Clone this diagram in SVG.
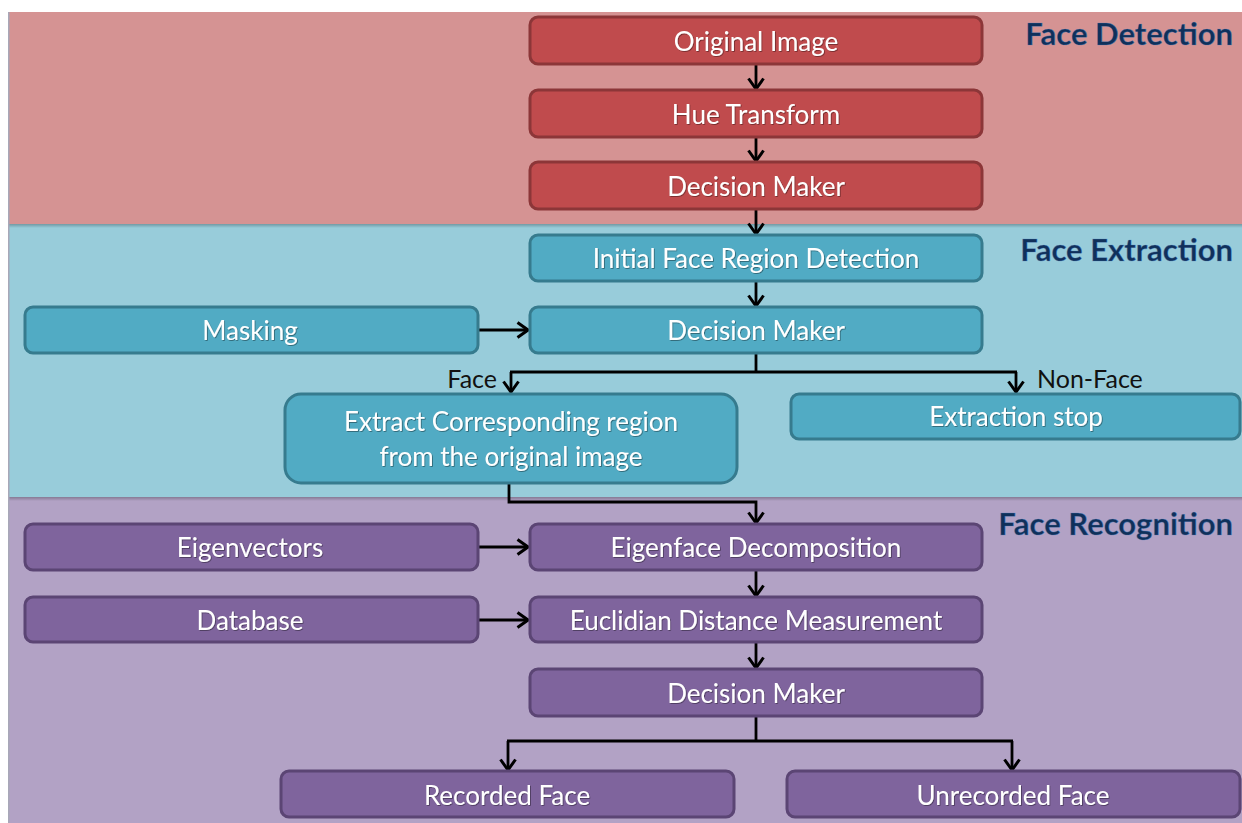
<svg xmlns="http://www.w3.org/2000/svg" width="1242" height="823" viewBox="0 0 1242 823">
  <defs>
    <marker id="arrow" viewBox="0 0 14 18" refX="12" refY="9" markerWidth="14" markerHeight="18" markerUnits="userSpaceOnUse" orient="auto">
      <path d="M1.5,1.5 L12,9 L1.5,16.5" fill="none" stroke="#000" stroke-width="3" stroke-linejoin="miter"/>
    </marker>
    <linearGradient id="bandShade" x1="0" y1="0" x2="0" y2="1">
      <stop offset="0" stop-color="#000" stop-opacity="0.25"/>
      <stop offset="1" stop-color="#000" stop-opacity="0"/>
    </linearGradient>
    <filter id="txtShadow" x="-5%" y="-20%" width="110%" height="140%">
      <feDropShadow dx="0.8" dy="0.8" stdDeviation="0.6" flood-color="#000" flood-opacity="0.45"/>
    </filter>
  </defs>
  <style>
    .lbl { font-family: Lato, "Open Sans", sans-serif; font-size: 26px; fill: #ffffff; text-anchor: middle; dominant-baseline: central; filter: url(#txtShadow); }
    .side { font-family: Lato, "Open Sans", sans-serif; font-size: 25px; fill: #111; }
    .title { font-family: Lato, "Open Sans", sans-serif; font-size: 31px; font-weight: bold; fill: #10305a; stroke: #4f81bd; stroke-width: 0.6; stroke-opacity: 0.6; }
    .red { fill: #c04b4d; stroke: #8c3638; stroke-width: 3; }
    .cyan { fill: #51abc4; stroke: #367b8e; stroke-width: 3; }
    .purple { fill: #7f649d; stroke: #5b4574; stroke-width: 3; }
    .conn { fill: none; stroke: #000; stroke-width: 2.8; }
  </style>

  <rect width="1242" height="823" fill="#ffffff"/>

  <!-- section bands -->
  <g id="bands">
    <rect x="9" y="12" width="1233" height="212" fill="#d59393"/>
    <rect x="9" y="224" width="1233" height="273" fill="#98ccda"/>
    <rect x="9" y="224" width="1233" height="4" fill="url(#bandShade)"/>
    <rect x="9" y="497" width="1233" height="326" fill="#b2a2c5"/>
    <rect x="9" y="497" width="1233" height="4" fill="url(#bandShade)"/>
    <rect x="8" y="12" width="1.5" height="811" fill="#a8a8b8"/>
  </g>

  <g id="titles">
    <text class="title" x="1233" y="45" text-anchor="end">Face Detection</text>
    <text class="title" x="1233" y="261" text-anchor="end">Face Extraction</text>
    <text class="title" x="1233" y="535" text-anchor="end">Face Recognition</text>
  </g>

  <!-- connectors -->
  <g id="connectors">
    <path class="conn" d="M756,64 V89" marker-end="url(#arrow)"/>
    <path class="conn" d="M756,137 V161" marker-end="url(#arrow)"/>
    <path class="conn" d="M756,209 V234" marker-end="url(#arrow)"/>
    <path class="conn" d="M756,281 V306" marker-end="url(#arrow)"/>
    <path class="conn" d="M478,330 H528" marker-end="url(#arrow)"/>
    <path class="conn" d="M756,353 V372"/>
    <path class="conn" d="M510,372 H1017"/>
    <path class="conn" d="M511,372 V392" marker-end="url(#arrow)"/>
    <path class="conn" d="M1016,372 V392" marker-end="url(#arrow)"/>
    <path class="conn" d="M509,483 V502 H756 V523" marker-end="url(#arrow)"/>
    <path class="conn" d="M478,547 H528" marker-end="url(#arrow)"/>
    <path class="conn" d="M756,570 V596" marker-end="url(#arrow)"/>
    <path class="conn" d="M478,620 H528" marker-end="url(#arrow)"/>
    <path class="conn" d="M756,642 V668" marker-end="url(#arrow)"/>
    <path class="conn" d="M756,716 V741"/>
    <path class="conn" d="M507,741 H1013"/>
    <path class="conn" d="M508,741 V770" marker-end="url(#arrow)"/>
    <path class="conn" d="M1012,741 V770" marker-end="url(#arrow)"/>
    <text class="side" x="497" y="388" text-anchor="end">Face</text>
    <text class="side" x="1037" y="388">Non-Face</text>
  </g>

  <!-- face detection -->
  <g id="original-image">
    <rect class="red" x="530" y="17" width="452" height="47" rx="8"/>
    <text class="lbl" x="756" y="41">Original Image</text>
  </g>
  <g id="hue-transform">
    <rect class="red" x="530" y="90" width="452" height="47" rx="8"/>
    <text class="lbl" x="756" y="114">Hue Transform</text>
  </g>
  <g id="decision-maker-1">
    <rect class="red" x="530" y="162" width="452" height="47" rx="8"/>
    <text class="lbl" x="756" y="186">Decision Maker</text>
  </g>

  <!-- face extraction -->
  <g id="initial-face-region">
    <rect class="cyan" x="530" y="235" width="452" height="46" rx="8"/>
    <text class="lbl" x="756" y="258">Initial Face Region Detection</text>
  </g>
  <g id="masking">
    <rect class="cyan" x="25" y="307" width="453" height="46" rx="8"/>
    <text class="lbl" x="250" y="330">Masking</text>
  </g>
  <g id="decision-maker-2">
    <rect class="cyan" x="530" y="307" width="452" height="46" rx="8"/>
    <text class="lbl" x="756" y="330">Decision Maker</text>
  </g>
  <g id="extract-region">
    <rect class="cyan" x="285" y="394" width="452" height="89" rx="16"/>
    <text class="lbl" x="511" y="421">Extract Corresponding region</text>
    <text class="lbl" x="511" y="456">from the original image</text>
  </g>
  <g id="extraction-stop">
    <rect class="cyan" x="791" y="394" width="449" height="45" rx="8"/>
    <text class="lbl" x="1016" y="416">Extraction stop</text>
  </g>

  <!-- face recognition -->
  <g id="eigenvectors">
    <rect class="purple" x="25" y="524" width="453" height="46" rx="8"/>
    <text class="lbl" x="250" y="547">Eigenvectors</text>
  </g>
  <g id="eigenface-decomposition">
    <rect class="purple" x="530" y="524" width="452" height="46" rx="8"/>
    <text class="lbl" x="756" y="547">Eigenface Decomposition</text>
  </g>
  <g id="database">
    <rect class="purple" x="25" y="597" width="453" height="45" rx="8"/>
    <text class="lbl" x="250" y="620">Database</text>
  </g>
  <g id="euclidian-distance">
    <rect class="purple" x="530" y="597" width="452" height="45" rx="8"/>
    <text class="lbl" x="756" y="620">Euclidian Distance Measurement</text>
  </g>
  <g id="decision-maker-3">
    <rect class="purple" x="530" y="669" width="452" height="47" rx="8"/>
    <text class="lbl" x="756" y="693">Decision Maker</text>
  </g>
  <g id="recorded-face">
    <rect class="purple" x="281" y="771" width="453" height="46" rx="8"/>
    <text class="lbl" x="507" y="795">Recorded Face</text>
  </g>
  <g id="unrecorded-face">
    <rect class="purple" x="787" y="771" width="453" height="46" rx="8"/>
    <text class="lbl" x="1013" y="795">Unrecorded Face</text>
  </g>
</svg>
